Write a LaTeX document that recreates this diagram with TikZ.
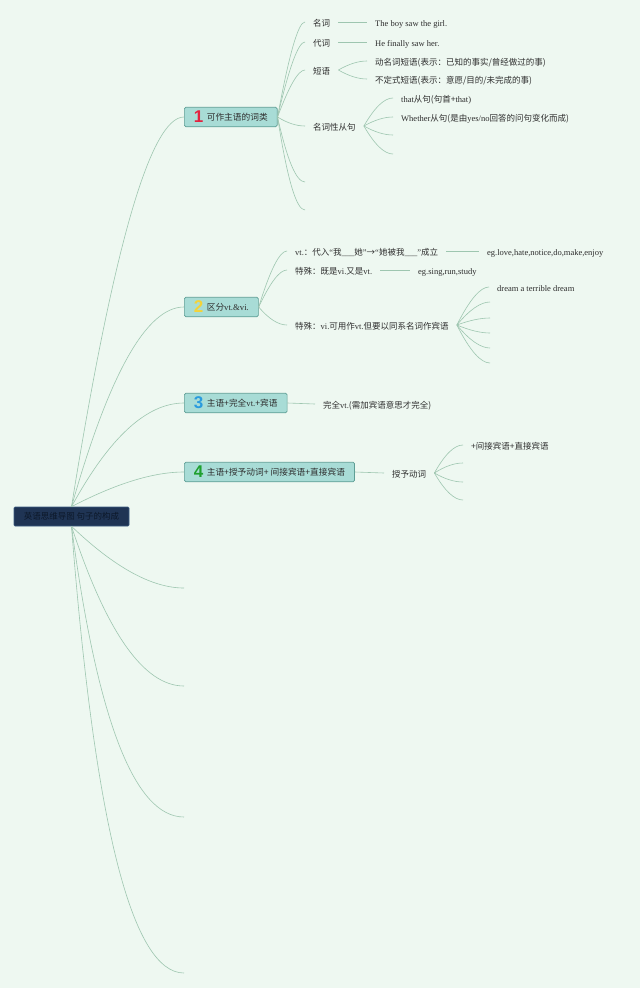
\documentclass[tikz,border=0pt]{standalone}
\usepackage{fontspec}
\setmainfont{Liberation Serif}
\newfontfamily\cjk{Noto Sans CJK SC}
\newfontfamily\numf{Liberation Sans}
\usetikzlibrary{calc}
\newcommand\zh[1]{{\cjk #1}}
\newcommand\tnum[2]{\raisebox{-2.6pt}{\numf\bfseries\fontsize{17}{17}\selectfont\color{#1}#2}\hspace{3.5pt}}
\newcommand\br[4]{\draw[conn] (#1) .. controls ($(#1)!.667!(#3,#4)$) and ($(#2)!.667!(#3,#4)$) .. (#2);}
\definecolor{bg}{HTML}{EEF8F1}
\definecolor{ln}{HTML}{9EC6B0}
\definecolor{tfill}{HTML}{A8DCD6}
\definecolor{tdraw}{HTML}{5E9E95}
\definecolor{rootfill}{HTML}{1F3454}
\definecolor{rootdraw}{HTML}{3A5A80}
\definecolor{roottext}{HTML}{0C1829}
\definecolor{txt}{HTML}{2E2E2E}
\definecolor{nred}{HTML}{E3223F}
\definecolor{nyel}{HTML}{F3D33A}
\definecolor{nblu}{HTML}{2A9BDE}
\definecolor{ngrn}{HTML}{1FA02F}
\tikzset{
  conn/.style={draw=ln, line width=0.6pt},
  lbl/.style={anchor=west, inner xsep=8pt, inner ysep=1pt, text height=8.5pt, text depth=0pt,
    font=\fontsize{8.5}{10}\selectfont, text=txt},
  topic/.style={anchor=west, draw=tdraw, fill=tfill, line width=0.7pt, rounded corners=1.5pt,
    inner xsep=9.5pt, inner ysep=2pt, minimum height=19.5pt, font=\fontsize{8.7}{10}\selectfont, text=txt},
  rootbox/.style={draw=rootdraw, fill=rootfill, line width=0.6pt, rounded corners=1pt,
    minimum width=115pt, minimum height=19pt, inner sep=0pt, font=\fontsize{8.5}{10}\selectfont, text=roottext}
}
\begin{document}
\begin{tikzpicture}[x=1pt,y=-1pt]
\fill[bg] (0,0) rectangle (640,988);
\useasboundingbox (0,0) rectangle (640,988);

% root
\node[rootbox] (root) at (71.5,516.5) {\zh{英语思维导图 句子的构成}};

% topics
\node[topic] (t1) at (184,117) {\tnum{nred}{1}\zh{可作主语的词类}};
\node[topic] (t2) at (184,307) {\tnum{nyel}{2}\zh{区分}vt.\&vi.};
\node[topic] (t3) at (184,403) {\tnum{nblu}{3}\zh{主语+完全}vt.\zh{+宾语}};
\node[topic] (t4) at (184,472) {\tnum{ngrn}{4}\zh{主语+授予动词+ 间接宾语+直接宾语}};

% empty branch ends of root
\coordinate (e1) at (184,588);
\coordinate (e2) at (184,686);
\coordinate (e3) at (184,817);
\coordinate (e4) at (184,973);

\br{root.north}{t1.west}{134}{117}
\br{root.north}{t2.west}{128}{307}
\br{root.north}{t3.west}{128}{403}
\br{root.north}{t4.west}{138}{472}
\br{root.south}{e1}{136}{588}
\br{root.south}{e2}{124}{686}
\br{root.south}{e3}{110}{817}
\br{root.south}{e4}{106}{973}

% ---- topic 1
\node[lbl] (a1) at (305,22) {\zh{名词}};
\node[lbl] (a2) at (305,42) {\zh{代词}};
\node[lbl] (a3) at (305,70) {\zh{短语}};
\node[lbl] (a4) at (305,126) {\zh{名词性从句}};
\coordinate (a5) at (305,182);
\coordinate (a6) at (305,210);
\br{t1.east}{a1.west}{295}{22}
\br{t1.east}{a2.west}{295}{42}
\br{t1.east}{a3.west}{295}{70}
\br{t1.east}{a4.west}{292}{126}
\br{t1.east}{a5}{292}{182}
\br{t1.east}{a6}{292}{210}

\node[lbl] (b1) at (367,22) {The boy saw the girl.};
\node[lbl] (b2) at (367,42) {He finally saw her.};
\draw[conn] (a1.east) -- (b1.west);
\draw[conn] (a2.east) -- (b2.west);

\node[lbl] (c1) at (367,61) {\zh{动名词短语(表示：已知的事实/曾经做过的事)}};
\node[lbl] (c2) at (367,79) {\zh{不定式短语(表示：意愿/目的/未完成的事)}};
\br{a3.east}{c1.west}{354}{61}
\br{a3.east}{c2.west}{354}{79}

\node[lbl] (d1) at (393,98) {that\zh{从句(句首+}that)};
\node[lbl] (d2) at (393,117) {Whether\zh{从句(是由}yes/no\zh{回答的问句变化而成)}};
\coordinate (d3) at (393,135);
\coordinate (d4) at (393,154);
\br{a4.east}{d1.west}{380}{98}
\br{a4.east}{d2.west}{380}{117}
\br{a4.east}{d3}{380}{135}
\br{a4.east}{d4}{380}{154}

% ---- topic 2
\node[lbl] (f1) at (287,251) {vt.\zh{：代入}“\zh{我}\_\_\_\zh{她}”\zh{→}“\zh{她被我}\_\_\_”\zh{成立}};
\node[lbl] (f2) at (287,270) {\zh{特殊：既是}vi.\zh{又是}vt.};
\node[lbl] (f3) at (287,325) {\zh{特殊：}vi.\zh{可用作}vt.\zh{但要以同系名词作宾语}};
\br{t2.east}{f1.west}{276}{251}
\br{t2.east}{f2.west}{276}{270}
\br{t2.east}{f3.west}{274}{325}

\node[lbl] (g1) at (479,251) {eg.love,hate,notice,do,make,enjoy};
\node[lbl] (g2) at (410,270) {eg.sing,run,study};
\draw[conn] (f1.east) -- (g1.west);
\draw[conn] (f2.east) -- (g2.west);

\node[lbl] (h1) at (489,287) {dream a terrible dream};
\coordinate (h2) at (490,302);
\coordinate (h3) at (490,318);
\coordinate (h4) at (490,333);
\coordinate (h5) at (490,348);
\coordinate (h6) at (490,363);
\br{f3.east}{h1.west}{476}{287}
\br{f3.east}{h2}{476}{302}
\br{f3.east}{h3}{476}{318}
\br{f3.east}{h4}{476}{333}
\br{f3.east}{h5}{476}{348}
\br{f3.east}{h6}{476}{363}

% ---- topic 3
\node[lbl] (k1) at (315,404) {\zh{完全}vt.\zh{(需加宾语意思才完全)}};
\draw[conn] (t3.east) -- (k1.west);

% ---- topic 4
\node[lbl] (m1) at (384,473) {\zh{授予动词}};
\draw[conn] (t4.east) -- (m1.west);
\node[lbl] (n1) at (463,445) {\zh{+间接宾语+直接宾语}};
\coordinate (n2) at (463,463);
\coordinate (n3) at (463,482);
\coordinate (n4) at (463,500);
\br{m1.east}{n1.west}{450}{445}
\br{m1.east}{n2}{450}{463}
\br{m1.east}{n3}{450}{482}
\br{m1.east}{n4}{450}{500}
\end{tikzpicture}
\end{document}
